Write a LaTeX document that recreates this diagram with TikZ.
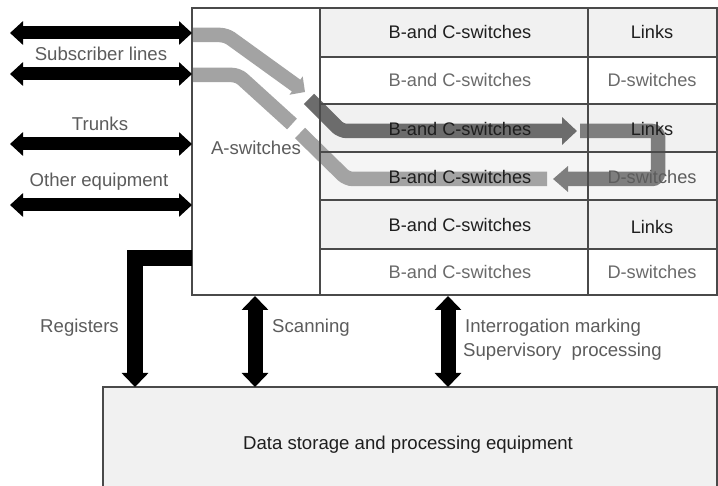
\documentclass[tikz,border=0pt]{standalone}
\usepackage{fontspec}
\setmainfont{Liberation Sans}
\usetikzlibrary{arrows.meta}
\definecolor{txtgray}{HTML}{5C5C5C}
\definecolor{txtlight}{HTML}{6A6A6A}
\definecolor{txtdark}{HTML}{1E1E1E}
\definecolor{rowfill}{HTML}{F1F1F1}
\definecolor{rowfilltwo}{HTML}{F5F5F5}
\definecolor{linegray}{HTML}{4A4A4A}
\definecolor{bandlight}{HTML}{A3A3A3}
\definecolor{banddark}{HTML}{6C6C6C}
\definecolor{bandmid}{HTML}{7E7E7E}
\tikzset{
  dhead/.tip={Triangle[width=23pt,length=13pt]},
  bhead/.tip={Triangle[width=26pt,length=14pt]}
}
\begin{document}
\begin{tikzpicture}[x=1pt,y=-1pt,
  lbl/.style={font=\fontsize{18.6}{21}\selectfont, text=txtgray, inner sep=0pt},
  cell/.style={font=\fontsize{18.2}{21}\selectfont, text=txtdark, inner sep=0pt},
  celllight/.style={font=\fontsize{18.2}{21}\selectfont, text=txtlight, inner sep=0pt},
  band/.style={line width=14.5pt, rounded corners=6pt},
  blk/.style={draw=black, line width=13pt},
  frame/.style={draw=linegray, line width=1.1pt}
]
\useasboundingbox (0,0) rectangle (718,486);
\fill[white] (0,0) rectangle (718,486);

% fills
\fill[rowfill] (320,8) rectangle (717,57);
\fill[rowfill] (320,104) rectangle (717,152);
\fill[rowfilltwo] (320,152) rectangle (717,200);
\fill[rowfill] (320,200) rectangle (717,249);
\fill[rowfill] (103,387) rectangle (717,486);

% coordinates for bands
\coordinate (p1a) at (193,35);
\coordinate (p1b) at (226,35);
\coordinate (p1c) at (305,92);
\coordinate (p2a) at (309,99);
\coordinate (p2b) at (341,131);
\coordinate (p2c) at (577,131);
\coordinate (p3a) at (580,131);
\coordinate (p3b) at (658,131);
\coordinate (p3c) at (658,179);
\coordinate (p3d) at (553,179);
\coordinate (p4a) at (547,179);
\coordinate (p4b) at (347,179);
\coordinate (p4c) at (300,133);
\coordinate (p5a) at (193,75);
\coordinate (p5b) at (238,75);
\coordinate (p5c) at (292,124);

% bands
\draw[band, draw=bandlight, -{Triangle[width=22pt,length=11pt]}] (p1a) -- (p1b) -- (p1c);
\draw[band, draw=banddark, -{Triangle[width=27pt,length=15pt]}] (p2a) -- (p2b) -- (p2c);
\draw[band, draw=bandmid, -{Triangle[width=25pt,length=15pt]}] (p3a) -- (p3b) -- (p3c) -- (p3d);
\draw[band, draw=bandlight] (p4a) -- (p4b) -- (p4c);
\draw[band, draw=bandlight] (p5a) -- (p5b) -- (p5c);

% frames
\draw[frame] (192,8) rectangle (717,295);
\draw[frame] (320,8) -- (320,295);
\draw[frame] (588,8) -- (588,295);
\foreach \yy in {57,104,152,200,249} \draw[frame] (320,\yy) -- (717,\yy);
\draw[frame] (103,486) -- (103,387) -- (717,387) -- (717,486);

% cell texts
\node[cell] (bc1) at (460,32) {B-and C-switches};
\node[celllight] (bc2) at (460,80) {B-and C-switches};
\node[cell] (bc3) at (460,129) {B-and C-switches};
\node[cell] (bc4) at (460,177) {B-and C-switches};
\node[cell] (bc5) at (460,225) {B-and C-switches};
\node[celllight] (bc6) at (460,272) {B-and C-switches};
\node[cell] (l1) at (652,32) {Links};
\node[celllight] (d2) at (652,80) {D-switches};
\node[cell] (l3) at (652,129) {Links};
\node[cell, text=txtgray] (d4) at (652,177) {D-switches};
\node[cell] (l5) at (652,227) {Links};
\node[celllight] (d6) at (652,272) {D-switches};
\node[lbl] (asw) at (256,148) {A-switches};

% left labels and arrows
\node[lbl] (subs) at (101,54) {Subscriber lines};
\node[lbl] (trunks) at (100,124) {Trunks};
\node[lbl] (other) at (99,182) {Other equipment};
\coordinate (s1l) at (10,33);  \coordinate (s1r) at (192,33);
\coordinate (s2l) at (10,74);  \coordinate (s2r) at (192,74);
\coordinate (t1l) at (10,144); \coordinate (t1r) at (192,144);
\coordinate (o1l) at (10,205); \coordinate (o1r) at (192,205);
\draw[blk, {dhead}-{dhead}] (s1l) -- (s1r);
\draw[blk, {dhead}-{dhead}] (s2l) -- (s2r);
\draw[blk, {dhead}-{dhead}] (t1l) -- (t1r);
\draw[blk, {dhead}-{dhead}] (o1l) -- (o1r);

% bottom box text
\node[cell, font=\fontsize{18.6}{21}\selectfont] (data) at (408,445) {Data storage and processing equipment};

% bottom arrows
\coordinate (rega) at (192,258.5);
\coordinate (regb) at (135,258.5);
\coordinate (regc) at (135,387);
\draw[blk, line width=16pt, line join=miter, -{bhead}] (rega) -- (regb) -- (regc);
\coordinate (scana) at (255,296);
\coordinate (scanb) at (255,387);
\draw[blk, line width=15pt, {bhead}-{bhead}] (scana) -- (scanb);
\coordinate (inta) at (448,296);
\coordinate (intb) at (448,387);
\draw[blk, line width=15pt, {bhead}-{bhead}] (inta) -- (intb);

\node[lbl, anchor=east] (reg) at (119,328) {Registers};
\node[lbl, anchor=west] (scan) at (272,328) {Scanning};
\node[lbl, anchor=west] (inter) at (465,328) {Interrogation marking};
\node[lbl, anchor=west] (sup) at (463,352) {Supervisory\ \ processing};
\end{tikzpicture}
\end{document}
